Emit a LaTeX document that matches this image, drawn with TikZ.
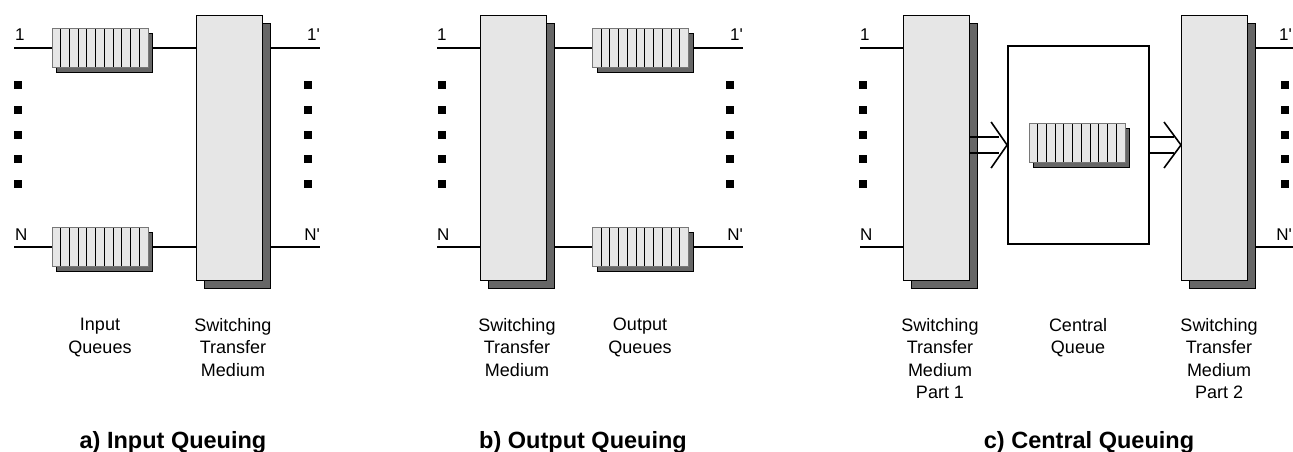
\documentclass[tikz,border=0pt]{standalone}
\usepackage{fontspec}
\setmainfont{Liberation Sans}
\usetikzlibrary{shadows,calc,backgrounds}
\definecolor{boxfill}{RGB}{230,230,230}
\definecolor{shadowgray}{RGB}{102,102,102}
\definecolor{queueedge}{RGB}{120,120,120}
\newcommand{\prm}{\textquotesingle}

\begin{document}
\begin{tikzpicture}[x=1pt,y=-1pt,
  switchbox/.style={draw=black, line width=1pt, fill=boxfill,
    minimum width=66pt, minimum height=265pt, inner sep=0pt,
    drop shadow={shadow xshift=8pt, shadow yshift=-8pt, fill=shadowgray,
      draw=black, line width=0.7pt, opacity=1}},
  queue/.style={draw=queueedge, line width=0.7pt, fill=boxfill,
    minimum width=96pt, minimum height=39pt, inner sep=0pt,
    drop shadow={shadow xshift=4.5pt, shadow yshift=-4.5pt, fill=shadowgray,
      draw=black, line width=0.7pt, opacity=1},
    path picture={\foreach \k in {1,...,10}{
      \draw[black, line width=1pt]
        ($(path picture bounding box.north west)!\k/11!(path picture bounding box.north east)$) --
        ($(path picture bounding box.south west)!\k/11!(path picture bounding box.south east)$);}}},
  centralbox/.style={draw=black, line width=1.8pt, minimum width=141pt,
    minimum height=198pt, inner sep=0pt},
  wire/.style={line width=1.6pt, black},
  dot/.style={fill=black, inner sep=0pt, minimum size=8pt},
  port/.style={font=\fontsize{17}{20}\selectfont, inner sep=0pt},
  caption/.style={font=\fontsize{18}{22.5}\selectfont, align=center,
    anchor=north, inner sep=0pt},
  title/.style={font=\fontsize{23.5}{28}\selectfont\bfseries, inner sep=0pt,
    anchor=base},
]
\useasboundingbox (0,0) rectangle (1293,451);

% ---------- a) input queuing ----------
\node[queue] (qa1) at (100,48) {};
\node[queue] (qaN) at (100,247) {};
\node[switchbox] (sa) at (229,147.5) {};
\coordinate (ia1) at (14,48);
\coordinate (iaN) at (14,247);
\coordinate (oa1) at (320,48);
\coordinate (oaN) at (320,247);

% ---------- b) output queuing ----------
\node[switchbox] (sb) at (513.5,147.5) {};
\node[queue] (qb1) at (640.5,48) {};
\node[queue] (qbN) at (640.5,247) {};
\coordinate (ib1) at (437,48);
\coordinate (ibN) at (437,247);
\coordinate (ob1) at (743,48);
\coordinate (obN) at (743,247);

% ---------- c) central queuing ----------
\node[switchbox] (sc1) at (936,147.5) {};
\node[centralbox] (cbox) at (1078.5,145) {};
\node[queue] (cq) at (1077,143) {};
\node[switchbox] (sc2) at (1214.5,147.5) {};
\coordinate (ic1) at (860,48);
\coordinate (icN) at (860,247);
\coordinate (oc1) at (1293,48);
\coordinate (ocN) at (1293,247);
\coordinate (tipR) at (sc2.west |- cbox.east);

% wires run behind the boxes and their shadows
\begin{scope}[on background layer]
  \draw[wire] (ia1) -- (qa1.west);
  \draw[wire] (iaN) -- (qaN.west);
  \draw[wire] (qa1.east) -- (qa1.east -| sa.west);
  \draw[wire] (qaN.east) -- (qaN.east -| sa.west);
  \draw[wire] (sa.east |- oa1) -- (oa1);
  \draw[wire] (sa.east |- oaN) -- (oaN);

  \draw[wire] (ib1) -- (ib1 -| sb.west);
  \draw[wire] (ibN) -- (ibN -| sb.west);
  \draw[wire] (sb.east |- qb1) -- (qb1.west);
  \draw[wire] (sb.east |- qbN) -- (qbN.west);
  \draw[wire] (qb1.east) -- (ob1);
  \draw[wire] (qbN.east) -- (obN);

  \draw[wire] (ic1) -- (ic1 -| sc1.west);
  \draw[wire] (icN) -- (icN -| sc1.west);
  \draw[wire] (sc2.east |- oc1) -- (oc1);
  \draw[wire] (sc2.east |- ocN) -- (ocN);
\end{scope}

% double arrows between the switching parts and the central queue
\draw[wire] ($(sc1.east |- cbox.west)+(0,-8)$) -- ($(cbox.west)+(-8,-8)$);
\draw[wire] ($(sc1.east |- cbox.west)+(0,8)$) -- ($(cbox.west)+(-8,8)$);
\draw[wire, line join=round] ($(cbox.west)+(-16,-23)$) -- (cbox.west) -- ($(cbox.west)+(-16,23)$);
\draw[wire] ($(cbox.east)+(0,-8)$) -- ($(tipR)+(-7,-8)$);
\draw[wire] ($(cbox.east)+(0,8)$) -- ($(tipR)+(-7,8)$);
\draw[wire, line join=round] ($(tipR)+(-17,-23)$) -- (tipR) -- ($(tipR)+(-17,23)$);

% vertical ellipsis dots
\foreach \x in {18,308,442,730,863,1285}
  \foreach \y in {85,109.75,134.5,159.25,184}
    \node[dot] at (\x,\y) {};

% port labels
\node[port, anchor=base west] at (15,40) {1};
\node[port, anchor=base west] at (15,240) {N};
\node[port, anchor=base east] at (320,40) {1\prm};
\node[port, anchor=base east] at (320,240) {N\prm};
\node[port, anchor=base west] at (437,40) {1};
\node[port, anchor=base west] at (437,240) {N};
\node[port, anchor=base east] at (743,40) {1\prm};
\node[port, anchor=base east] at (743,240) {N\prm};
\node[port, anchor=base west] at (860,40) {1};
\node[port, anchor=base west] at (860,240) {N};
\node[port, anchor=base east] at (1292,40) {1\prm};
\node[port, anchor=base east] at (1292,240) {N\prm};

% captions
\node[caption] at (100,318) {Input\\Queues};
\node[caption] at (233,318) {Switching\\Transfer\\Medium};
\node[caption] at (517,318) {Switching\\Transfer\\Medium};
\node[caption] at (640,318) {Output\\Queues};
\node[caption] at (940,318) {Switching\\Transfer\\Medium\\Part 1};
\node[caption] at (1078,318) {Central\\Queue};
\node[caption] at (1219,318) {Switching\\Transfer\\Medium\\Part 2};

% panel titles
\node[title] at (173,448) {a) Input Queuing};
\node[title] at (583,448) {b) Output Queuing};
\node[title] at (1089,448) {c) Central Queuing};
\end{tikzpicture}
\end{document}
